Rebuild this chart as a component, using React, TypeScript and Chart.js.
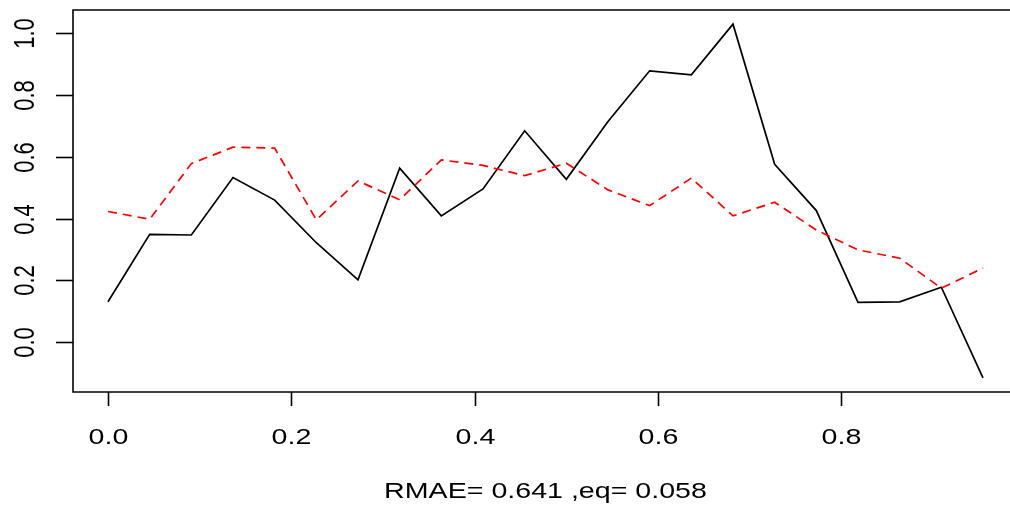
import React, { useEffect, useRef } from "react";
import { Chart, registerables } from "chart.js";

Chart.register(...registerables);

const xValues = [0, 1, 2, 3, 4, 5, 6, 7, 8, 9, 10, 11, 12, 13, 14, 15, 16, 17, 18, 19, 20, 21].map((i) => i / 22);
const observed = [0.131, 0.349, 0.347, 0.533, 0.46, 0.322, 0.202, 0.563, 0.409, 0.496, 0.684, 0.527, 0.714, 0.878, 0.865, 1.029, 0.576, 0.426, 0.129, 0.131, 0.178, -0.115];
const predicted = [0.423, 0.398, 0.578, 0.631, 0.628, 0.396, 0.522, 0.461, 0.59, 0.572, 0.539, 0.579, 0.493, 0.442, 0.531, 0.409, 0.453, 0.363, 0.299, 0.272, 0.175, 0.24];
const xTicks = [0, 0.2, 0.4, 0.6, 0.8];
const yTicks = [0, 0.2, 0.4, 0.6, 0.8, 1.0];
const subtitle = "RMAE= 0.641 ,eq= 0.058";

const FONT = '"Liberation Sans", Arial, Helvetica, sans-serif';
const SX = 1.3;

function extend(vals: number[]) {
  const lo = Math.min(...vals);
  const hi = Math.max(...vals);
  const d = (hi - lo) * 0.04;
  return [lo - d, hi + d];
}

const axesPlugin = {
  id: "rAxes",
  afterDraw(chart: any) {
    const ctx = chart.ctx;
    const { left, top, right, bottom } = chart.chartArea;
    const xs = chart.scales.x;
    const ys = chart.scales.y;
    ctx.save();
    ctx.strokeStyle = "#000";
    ctx.lineWidth = 1.6;
    ctx.beginPath();
    ctx.moveTo(right, top);
    ctx.lineTo(left, top);
    ctx.lineTo(left, bottom);
    ctx.lineTo(right, bottom);
    ctx.stroke();
    ctx.fillStyle = "#000";
    ctx.font = `22px ${FONT}`;
    ctx.textAlign = "center";
    ctx.textBaseline = "alphabetic";
    xTicks.forEach((v) => {
      const px = Math.round(xs.getPixelForValue(v)) + 0.5;
      ctx.beginPath();
      ctx.moveTo(px, bottom);
      ctx.lineTo(px, bottom + 14);
      ctx.stroke();
      ctx.save();
      ctx.translate(px, 444);
      ctx.scale(SX, 1);
      ctx.fillText(v.toFixed(1), 0, 0);
      ctx.restore();
    });
    yTicks.forEach((v) => {
      const py = Math.round(ys.getPixelForValue(v)) + 0.5;
      ctx.beginPath();
      ctx.moveTo(left, py);
      ctx.lineTo(left - 17, py);
      ctx.stroke();
      ctx.save();
      ctx.translate(34, py);
      ctx.scale(SX, 1);
      ctx.rotate(-Math.PI / 2);
      ctx.fillText(v.toFixed(1), 0, 0);
      ctx.restore();
    });
    ctx.save();
    ctx.translate((left + right) / 2, 498);
    ctx.scale(SX, 1);
    ctx.fillText(subtitle, 0, 0);
    ctx.restore();
    ctx.restore();
  },
};

export default function App() {
  const ref = useRef<HTMLCanvasElement | null>(null);
  useEffect(() => {
    if (!ref.current) return;
    const [xmin, xmax] = extend(xValues);
    const [ymin, ymax] = extend([...observed, ...predicted]);
    const chart = new Chart(ref.current, {
      type: "line",
      data: {
        datasets: [
          {
            label: "predicted",
            data: xValues.map((x, i) => ({ x, y: predicted[i] })),
            borderColor: "#ff0000",
            borderWidth: 1.7,
            borderDash: [9, 6],
            pointRadius: 0,
            tension: 0,
            fill: false,
            order: 0,
          },
          {
            label: "observed",
            data: xValues.map((x, i) => ({ x, y: observed[i] })),
            borderColor: "#000000",
            borderWidth: 1.7,
            pointRadius: 0,
            tension: 0,
            fill: false,
            order: 1,
          },
        ],
      },
      options: {
        animation: false,
        responsive: false,
        maintainAspectRatio: false,
        layout: { padding: { left: 73, top: 10, right: 12, bottom: 119 } },
        plugins: { legend: { display: false }, tooltip: { enabled: false } },
        scales: {
          x: { type: "linear", min: xmin, max: xmax, display: false },
          y: { type: "linear", min: ymin, max: ymax, display: false },
        },
      },
      plugins: [axesPlugin],
    });
    return () => chart.destroy();
  }, []);
  return (
    <div style={{ position: "fixed", left: 0, top: 0, width: 1010, height: 511, overflow: "hidden", background: "#fff" }}>
      <canvas ref={ref} width={1030} height={511} style={{ width: 1030, height: 511, display: "block" }} />
    </div>
  );
}
